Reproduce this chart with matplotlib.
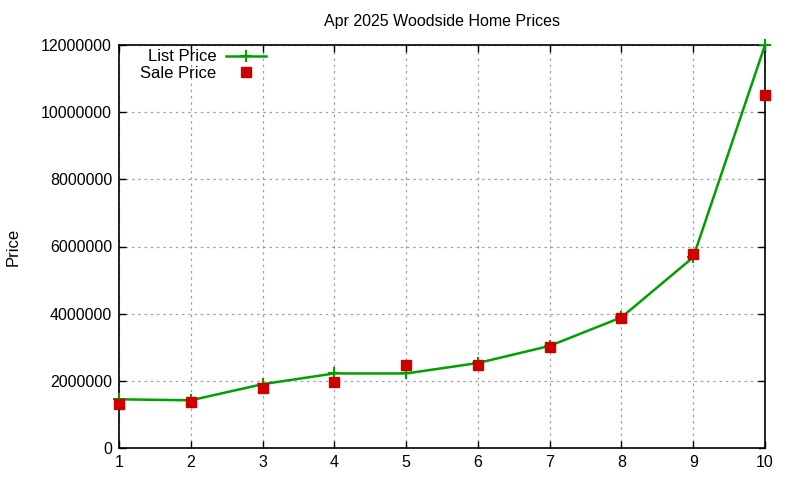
import matplotlib
matplotlib.use("Agg")
import matplotlib.pyplot as plt

plt.rcParams['font.family'] = ['Liberation Sans', 'DejaVu Sans']

x = [1, 2, 3, 4, 5, 6, 7, 8, 9, 10]
list_price = [1450000, 1420000, 1900000, 2220000, 2220000, 2530000, 3040000, 3890000, 5680000, 12000000]
sale_price = [1310000, 1360000, 1800000, 1960000, 2460000, 2460000, 3020000, 3860000, 5770000, 10510000]
yticks = [0, 2000000, 4000000, 6000000, 8000000, 10000000, 12000000]
ytick_labels = [str(v) for v in yticks]
title = "Apr 2025 Woodside Home Prices"

fig = plt.figure(figsize=(8, 4.8), dpi=100)
ax = fig.add_axes([119/800, 1-448/480, (765-119)/800, (448-45)/480])

ax.plot(x, list_price, color='#00a000', lw=1.8, marker='+', ms=9, mew=1.5, label='List Price',
        zorder=3, clip_on=False)
ax.plot(x, sale_price, ls='none', marker='s', ms=6.5, color='#cc0000', label='Sale Price',
        zorder=4, clip_on=False)

ax.set_xlim(1, 10)
ax.set_ylim(0, 12000000)
ax.set_xticks(x)
ax.set_yticks(yticks)
ax.set_yticklabels(ytick_labels)
ax.tick_params(direction='in', top=True, right=True, labelsize=11.5, length=5, width=1, pad=5)
ax.grid(True, color='#a0a0a0', ls=(0, (2, 3)), lw=0.9)
for s in ax.spines.values():
    s.set_linewidth(1.2)
ax.set_title(title, fontsize=11.5, pad=14)
ax.set_ylabel('Price', fontsize=12)
ax.yaxis.set_label_coords(-0.152, 0.5)

leg = ax.legend(loc='upper left', bbox_to_anchor=(0.015, 1.018), frameon=False, markerfirst=False,
                fontsize=12, handlelength=2.4, handletextpad=0.6, labelspacing=0.1, borderpad=0.2)
for t in leg.get_texts():
    t.set_ha('right')

fig.savefig('out.png', dpi=100)
